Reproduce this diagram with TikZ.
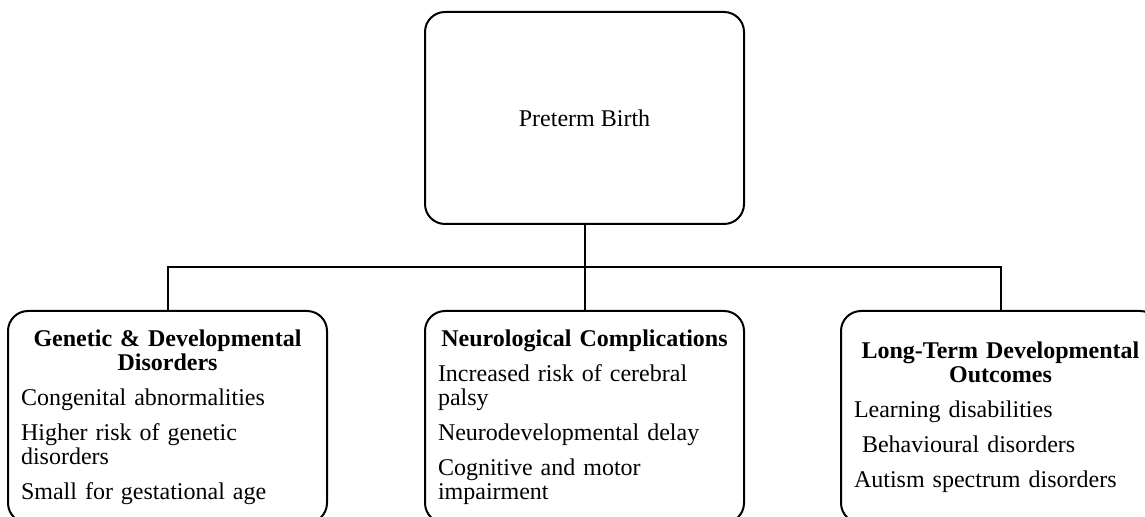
\documentclass[tikz,border=0pt]{standalone}
\usepackage{fontspec}
\setmainfont{Liberation Serif}
\usetikzlibrary{positioning,calc}

\begin{document}
\begin{tikzpicture}[line width=1pt,
roundbox/.style={rectangle, rounded corners=10pt, draw=black, minimum width=159.5pt, minimum height=106pt, font=\fontsize{12}{12}\selectfont},
listbox/.style={roundbox, text width=146.5pt, inner xsep=6.5pt, align=left, execute at begin node={\setlength\parskip{5.5pt}\hyphenpenalty=10000}},
]
\useasboundingbox (0,0) rectangle (572.5pt,-258.5pt);

\node[roundbox] (birth) at (292.25pt,-59pt) {Preterm Birth};

\node[listbox] (neuro) [below=42.5pt of birth] {{\centering\bfseries Neurological Complications\par}
Increased risk of cerebral palsy\par
Neurodevelopmental delay\par
Cognitive and motor impairment};
\node[listbox] (genetic) [left=48pt of neuro] {{\centering\bfseries Genetic \& Developmental Disorders\par}
Congenital abnormalities\par
Higher risk of genetic disorders\par
Small for gestational age};
\node[listbox] (outcome) [right=47.5pt of neuro] {{\centering\bfseries Long-Term Developmental Outcomes\par}
Learning disabilities\par
~Behavioural disorders\par
Autism spectrum disorders};

\coordinate (split) at ($(birth.south)!0.5!(neuro.north)$);

\draw (birth) -- (neuro);
\draw (genetic.north) |- (split) -| (outcome.north);

\end{tikzpicture}
\end{document}
